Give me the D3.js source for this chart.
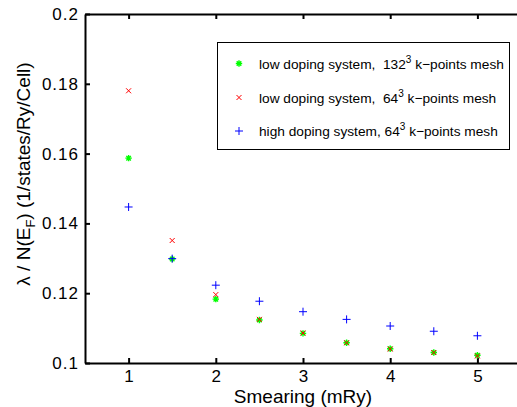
<!DOCTYPE html>
<html>
<head>
<meta charset="utf-8">
<script src="https://cdn.jsdelivr.net/npm/d3@7"></script>
<style>
  body { margin: 0; background: #fff; }
  text { font-family: "Liberation Sans", Arial, Helvetica, sans-serif; }
</style>
</head>
<body>
<div id="chart"></div>
<script>
// data
var smearing = [1, 1.5, 2, 2.5, 3, 3.5, 4, 4.5, 5];
var lowDoping132 = [0.1587, 0.1298, 0.1183, 0.1123, 0.1085, 0.1058, 0.1041, 0.1030, 0.1022];
var lowDoping64  = [0.1780, 0.1351, 0.1196, 0.1125, 0.1086, 0.1058, 0.1040, 0.1030, 0.1020];
var highDoping64 = [0.1447, 0.1299, 0.1223, 0.1177, 0.1147, 0.1125, 0.1106, 0.1091, 0.1078];
var xTicks = [1, 2, 3, 4, 5];
var yTicks = [0.1, 0.12, 0.14, 0.16, 0.18, 0.2];

var W = 517, H = 407;
var margin = {top: 14, right: -4, bottom: 44, left: 85};

var svg = d3.select("#chart").append("svg")
    .attr("width", W)
    .attr("height", H);

var x = d3.scaleLinear().domain([0.5, 5.5]).range([margin.left, W - margin.right]);
var y = d3.scaleLinear().domain([0.1, 0.2]).range([H - margin.bottom, margin.top]);

// axes, ticks pointing inward
var fmtY = function(d) { return String(+d.toFixed(2)); };

svg.append("g")
    .attr("transform", "translate(0," + y(0.1) + ")")
    .call(d3.axisBottom(x).tickValues(xTicks).tickFormat(d3.format("d")).tickSizeInner(-5).tickSizeOuter(0).tickPadding(7))
    .call(function(g) { g.selectAll("text").attr("font-size", 17).attr("fill", "#000"); });

svg.append("g")
    .attr("transform", "translate(0," + y(0.2) + ")")
    .call(d3.axisTop(x).tickValues(xTicks).tickSizeInner(-5).tickSizeOuter(0).tickFormat(""));

svg.append("g")
    .attr("transform", "translate(" + x(0.5) + ",0)")
    .call(d3.axisLeft(y).tickValues(yTicks).tickFormat(fmtY).tickSizeInner(-5).tickSizeOuter(0).tickPadding(6))
    .call(function(g) {
      g.selectAll("text").attr("font-size", 17).attr("fill", "#000").style("letter-spacing", "1px");
    });

svg.selectAll(".domain").attr("stroke", "#000").attr("stroke-width", 2);
svg.selectAll(".tick line").attr("stroke", "#000").attr("stroke-width", 2);

// axis labels
svg.append("text")
    .attr("x", x(3))
    .attr("y", 403)
    .attr("text-anchor", "middle")
    .attr("font-size", 19)
    .text("Smearing (mRy)");

var yl = svg.append("text")
    .attr("transform", "translate(30,174) rotate(-90)")
    .attr("text-anchor", "middle")
    .attr("font-size", 19);
yl.append("tspan").text("λ / N(E");
yl.append("tspan").attr("font-size", 13).attr("dy", 5).text("F");
yl.append("tspan").attr("dy", -5).text(") (1/states/Ry/Cell)");

// markers
var starPath = "";
[0, 1, 2, 3].forEach(function(i) {
  var a = i * Math.PI / 4, s = 3.2;
  starPath += "M" + (-s * Math.cos(a)) + "," + (-s * Math.sin(a)) + "L" + (s * Math.cos(a)) + "," + (s * Math.sin(a));
});
var crossPath = "M-2.5,-2.5L2.5,2.5M-2.5,2.5L2.5,-2.5";
var plusPath = "M-4,0L4,0M0,-4L0,4";

var series = [
  {values: lowDoping132, color: "#00ff00", path: starPath, width: 1.4},
  {values: lowDoping64, color: "#ff0000", path: crossPath, width: 1},
  {values: highDoping64, color: "#0000ff", path: plusPath, width: 1}
];

series.forEach(function(s) {
  svg.append("g").selectAll("path")
    .data(smearing.map(function(d, i) { return [d, s.values[i]]; }))
    .enter().append("path")
      .attr("transform", function(d) { return "translate(" + x(d[0]) + "," + y(d[1]) + ")"; })
      .attr("d", s.path)
      .attr("fill", "none")
      .attr("stroke", s.color)
      .attr("stroke-width", s.width);
});

// legend
var legend = svg.append("g");
legend.append("rect")
    .attr("x", 217.5).attr("y", 42.5)
    .attr("width", 292).attr("height", 107)
    .attr("fill", "#fff")
    .attr("stroke", "#000")
    .attr("stroke-width", 1);

var legendRows = [
  {pre: "low doping system,  132", post: " k\u2212points mesh"},
  {pre: "low doping system,  64", post: " k\u2212points mesh"},
  {pre: "high doping system, 64", post: " k\u2212points mesh"}
];
var rowY = [63.5, 97.5, 131];

legendRows.forEach(function(r, i) {
  legend.append("path")
    .attr("transform", "translate(239," + rowY[i] + ")")
    .attr("d", series[i].path)
    .attr("fill", "none")
    .attr("stroke", series[i].color)
    .attr("stroke-width", series[i].width);
  var t = legend.append("text")
    .attr("x", 259)
    .attr("y", rowY[i] + 5)
    .attr("font-size", 13.7)
    .style("white-space", "pre");
  t.append("tspan").text(r.pre);
  t.append("tspan").attr("font-size", 10).attr("dy", -6).text("3");
  t.append("tspan").attr("dy", 6).text(r.post);
});
</script>
</body>
</html>
